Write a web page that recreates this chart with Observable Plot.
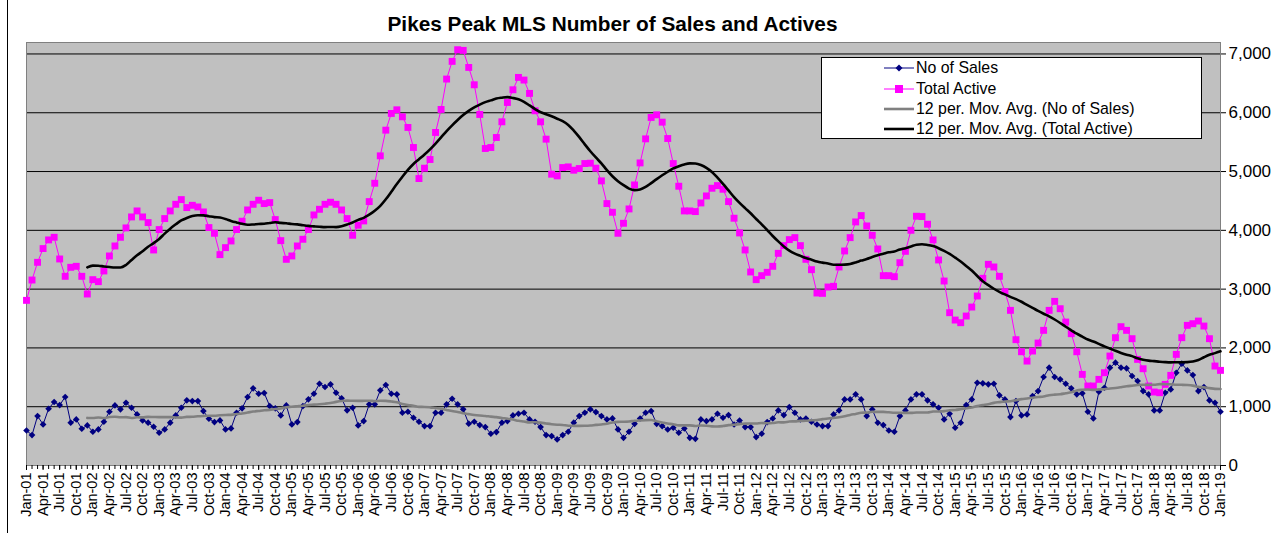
<!DOCTYPE html>
<html>
<head>
<meta charset="utf-8">
<script src="https://cdn.jsdelivr.net/npm/d3@7"></script>
<script src="https://cdn.jsdelivr.net/npm/@observablehq/plot@0.6"></script>
<style>
  html, body { margin: 0; padding: 0; background: #fff; }
  #wrap { position: relative; width: 1284px; height: 533px; overflow: hidden; font-family: Arial, "Liberation Sans", sans-serif; }
  #chart { position: absolute; left: 0; top: 0; }
  #title { position: absolute; left: 0; top: 12px; width: 1225px; text-align: center; font-weight: bold; font-size: 20.8px; line-height: 24px; color: #000; }
  #frameLeft { position: absolute; left: 7px; top: 0; width: 0; height: 533px; border-left: 1px solid #000; }
  #legend { position: absolute; left: 821px; top: 57px; width: 379px; height: 80px; background: #fff; border: 1px solid #000; }
  .lg { position: absolute; left: 62px; height: 20px; display: flex; align-items: center; font-size: 15.9px; white-space: nowrap; }
  .lg svg { margin-right: 2px; }
</style>
</head>
<body>
<div id="wrap">
  <div id="chart"></div>
  <div id="frameLeft"></div>
  <div id="title">Pikes Peak MLS Number of Sales and Actives</div>
  <div id="legend"></div>
</div>
<script>
// ---- Data (monthly, Jan-01 .. Jan-19) ----
const monthNames = ["Jan","Feb","Mar","Apr","May","Jun","Jul","Aug","Sep","Oct","Nov","Dec"];
const yearLabels = ["01","02","03","04","05","06","07","08","09","10","11","12","13","14","15","16","17","18","19"];

const noOfSales = [
  596,517,841,699,966,1080,1028,1165,728,784,625,682,
  574,614,744,915,1022,955,1068,983,869,767,728,659,
  557,614,728,852,983,1108,1096,1096,926,795,739,767,
  614,631,898,972,1165,1312,1221,1233,1011,972,852,1022,
  699,739,1011,1125,1221,1391,1335,1380,1238,1142,938,983,
  682,756,1040,1040,1278,1369,1221,1210,898,915,812,744,
  670,670,898,898,1040,1136,1040,955,711,744,688,654,
  540,568,728,756,852,881,898,784,744,654,518,501,
  444,518,574,728,841,898,955,909,841,784,801,614,
  471,574,709,800,897,925,709,670,613,642,557,630,
  471,454,784,755,784,880,812,857,698,766,653,653,
  483,540,738,800,937,857,994,897,784,800,744,698,
  670,670,869,937,1124,1124,1210,1124,840,954,727,687,
  596,574,840,937,1124,1210,1210,1108,1040,982,784,880,
  642,727,1028,1124,1408,1397,1380,1391,1193,1124,823,1096,
  852,869,1181,1266,1505,1664,1505,1465,1391,1312,1210,1227,
  914,801,1255,1323,1664,1749,1664,1653,1522,1437,1266,1210,
  937,937,1238,1294,1578,1732,1618,1539,1266,1334,1108,1068,
  914
];

const totalActive = [
  2809,3155,3456,3690,3837,3882,3513,3218,3371,3388,3218,2917,
  3161,3127,3309,3564,3734,3882,4041,4228,4330,4228,4132,3666,
  4013,4200,4330,4443,4523,4387,4426,4398,4313,4047,3950,3587,
  3706,3819,4013,4155,4347,4443,4512,4455,4472,4183,3825,3507,
  3564,3734,3848,4013,4262,4358,4443,4478,4443,4347,4200,3916,
  4087,4160,4489,4801,5267,5704,5988,6050,5931,5750,5409,4881,
  5057,5205,5665,6056,6573,6874,7072,7061,6771,6476,5971,5392,
  5409,5579,5846,6175,6391,6601,6556,6329,6034,5846,5551,4955,
  4926,5068,5079,5023,5051,5136,5142,5057,4841,4455,4307,3950,
  4120,4364,4772,5147,5556,5920,5965,5840,5562,5136,4750,4330,
  4330,4319,4466,4585,4716,4761,4699,4489,4206,3956,3666,3292,
  3161,3229,3286,3388,3609,3740,3842,3876,3740,3507,3331,2934,
  2928,3036,3048,3377,3649,3876,4143,4251,4075,3916,3683,3229,
  3229,3212,3450,3643,4001,4240,4234,4104,3837,3496,3138,2599,
  2474,2429,2542,2695,2883,3184,3422,3377,3218,2957,2639,2140,
  1935,1776,1947,2083,2299,2639,2792,2667,2440,2242,1935,1550,
  1352,1352,1465,1578,1862,2174,2361,2299,2157,1805,1646,1352,
  1250,1238,1380,1533,1890,2174,2384,2412,2457,2372,2157,1692,
  1618
];

const yTicks = [0,1000,2000,3000,4000,5000,6000,7000];
const seriesNames = ["No of Sales","Total Active","12 per. Mov. Avg. (No of Sales)","12 per. Mov. Avg. (Total Active)"];
const seriesColors = ["#000080","#FF00FF","#808080","#000000"];

// category labels
const categories = [];
for (const y of yearLabels) for (const m of monthNames) categories.push(m + "-" + y);
categories.length = noOfSales.length;

const rows = categories.map((c, i) => ({i, label: c, sales: noOfSales[i], active: totalActive[i]}));
const allIdx = rows.map(d => d.i);
const labelIdx = allIdx.filter(i => i % 3 === 0);

const chart = Plot.plot({
  width: 1284,
  height: 533,
  marginLeft: 26,
  marginRight: 64,
  marginTop: 42,
  marginBottom: 68,
  style: {fontFamily: "Arial, 'Liberation Sans', sans-serif", background: "transparent", color: "#000"},
  x: {type: "linear", domain: [0, categories.length - 1]},
  y: {domain: [0, 7195]},
  marks: [
    Plot.frame({fill: "#C0C0C0", stroke: "#808080"}),
    Plot.ruleY(yTicks.filter(v => v > 0), {stroke: "#000", strokeWidth: 1}),
    Plot.axisY({anchor: "right", ticks: yTicks, tickFormat: d3.format(","), tickSize: 5, tickPadding: 3, fontSize: 17, label: null}),
    Plot.axisX({ticks: allIdx, tickFormat: () => "", tickSize: 4, label: null}),
    Plot.axisX({ticks: labelIdx, tickFormat: i => categories[i], tickRotate: -90, tickSize: 5, tickPadding: 2, fontSize: 14.5, label: null}),
    Plot.ruleX([0], {stroke: "#808080"}),
    Plot.lineY(rows, {x: "i", y: "sales", stroke: seriesColors[0], strokeWidth: 1}),
    Plot.dot(rows, {x: "i", y: "sales", symbol: "diamond2", r: 3, fill: seriesColors[0], stroke: "none"}),
    Plot.lineY(rows, {x: "i", y: "active", stroke: seriesColors[1], strokeWidth: 1}),
    Plot.dot(rows, {x: "i", y: "active", symbol: "square", r: 3.9, fill: seriesColors[1], stroke: "none"}),
    Plot.lineY(rows, Plot.windowY({k: 12, anchor: "end", strict: true, reduce: "mean"}, {x: "i", y: "sales", stroke: seriesColors[2], strokeWidth: 2.6, curve: "monotone-x"})),
    Plot.lineY(rows, Plot.windowY({k: 12, anchor: "end", strict: true, reduce: "mean"}, {x: "i", y: "active", stroke: seriesColors[3], strokeWidth: 2.6, curve: "monotone-x"}))
  ]
});
document.getElementById("chart").appendChild(chart);

// legend
const legend = document.getElementById("legend");
const rowTops = [0, 21, 41, 61];
seriesNames.forEach((name, k) => {
  const div = document.createElement("div");
  div.className = "lg";
  div.style.top = rowTops[k] + "px";
  let marker = "";
  if (k === 0) marker = '<path d="M15,1.5 L18.5,5 L15,8.5 L11.5,5 Z" fill="' + seriesColors[0] + '"/>';
  if (k === 1) marker = '<rect x="11" y="1" width="8" height="8" fill="' + seriesColors[1] + '"/>';
  const sw = k >= 2 ? 2.6 : 1;
  div.innerHTML = '<svg width="30" height="10"><line x1="0" y1="5" x2="30" y2="5" stroke="' + seriesColors[k] + '" stroke-width="' + sw + '"/>' + marker + '</svg><span>' + name + '</span>';
  legend.appendChild(div);
});
</script>
</body>
</html>
